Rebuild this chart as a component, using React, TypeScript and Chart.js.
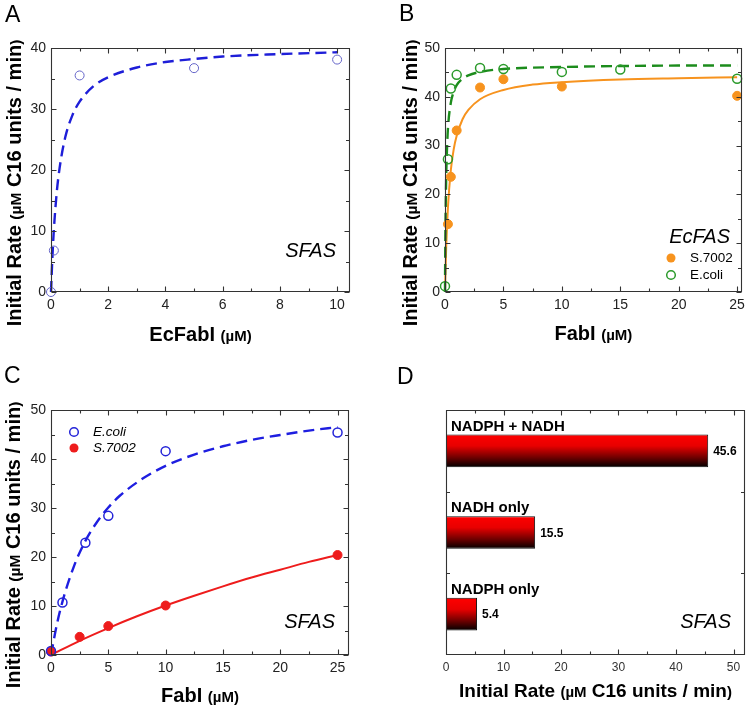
import React, { useEffect, useRef } from 'react';
import { Chart, registerables } from 'chart.js';

Chart.register(...registerables);

const FONT = '"Liberation Sans", Arial, Helvetica, sans-serif';

// ---------- Panel A : SFAS vs EcFabI ----------
const aObsX = [0, 0.1, 1, 5, 10];
const aObsY = [0, 6.8, 35.5, 36.7, 38.1];
const aFitX = [0, 0.05, 0.1, 0.2, 0.3, 0.5, 0.75, 1, 1.5, 2, 3, 4, 5, 6, 8, 10];
const aFitY = [0, 5.8, 10.2, 16.3, 20.3, 25.4, 29.0, 31.2, 33.8, 35.2, 36.8, 37.7, 38.2, 38.6, 39.0, 39.3];
const aXTicks = [0, 2, 4, 6, 8, 10];
const aYTicks = [0, 10, 20, 30, 40];

// ---------- Panel B : EcFAS vs FabI ----------
const bS7002X = [0.25, 0.5, 1, 3, 5, 10, 25];
const bS7002Y = [13.9, 23.6, 33.1, 41.9, 43.6, 42.1, 40.2];
const bEcoliX = [0, 0.25, 0.5, 1, 3, 5, 10, 15, 25];
const bEcoliY = [1.2, 27.2, 41.7, 44.5, 45.9, 45.7, 45.1, 45.6, 43.7];
const bS7002FitX = [0, 0.1, 0.25, 0.5, 0.75, 1, 1.5, 2, 3, 5, 7.5, 10, 15, 20, 25];
const bS7002FitY = [0, 9.0, 17.3, 25.0, 29.3, 32.0, 35.4, 37.3, 39.5, 41.4, 42.5, 43.0, 43.55, 43.8, 44.0];
const bEcoliFitX = [0, 0.02, 0.05, 0.1, 0.2, 0.3, 0.5, 0.75, 1, 1.5, 2, 3, 5, 10, 15, 20, 25];
const bEcoliFitY = [0, 7.8, 15.5, 23.3, 31.1, 35.0, 38.8, 41.1, 42.4, 43.7, 44.4, 45.1, 45.7, 46.1, 46.3, 46.4, 46.4];
const bXTicks = [0, 5, 10, 15, 20, 25];
const bYTicks = [0, 10, 20, 30, 40, 50];

// ---------- Panel C : SFAS vs FabI ----------
const cEcoliX = [0, 1, 3, 5, 10, 25];
const cEcoliY = [0.8, 10.7, 22.9, 28.4, 41.6, 45.4];
const cS7002X = [0, 2.5, 5, 10, 25];
const cS7002Y = [0.7, 3.7, 5.9, 10.1, 20.4];
const cEcoliFitX = [0, 0.5, 1, 2, 3, 4, 5, 6, 8, 10, 12.5, 15, 17.5, 20, 22.5, 25];
const cEcoliFitY = [0, 6.1, 10.9, 18.1, 23.3, 27.1, 30.1, 32.5, 36.0, 38.6, 40.9, 42.6, 43.9, 44.9, 45.8, 46.5];
const cS7002FitX = [0, 2.5, 5, 7.5, 10, 12.5, 15, 17.5, 20, 22.5, 25];
const cS7002FitY = [0, 2.9, 5.5, 7.9, 10.1, 12.1, 14.0, 15.8, 17.4, 19.0, 20.4];
const cXTicks = [0, 5, 10, 15, 20, 25];
const cYTicks = [0, 10, 20, 30, 40, 50];

// ---------- Panel D : cofactor bars ----------
const dCategories = ['NADPH + NADH', 'NADH only', 'NADPH only'];
const dValues = [45.6, 15.5, 5.4];
const dXTicks = [0, 10, 20, 30, 40, 50];

const zip = (xs: number[], ys: number[]) => xs.map((x, i) => ({ x, y: ys[i] }));
const minorOf = (t: number[]) => t.slice(0, -1).map((v, i) => (v + t[i + 1]) / 2);

type Part = { t: string; s: number };
type Note = { t: string; font: string; x: number; y: number; align?: CanvasTextAlign; base?: CanvasTextBaseline };
type Marker = { x: number; y: number; r: number; color: string; fill: boolean; lw?: number };
type Decor = {
  letter: Note;
  xTitle: Part[];
  xBase: number;
  yTitle?: Part[];
  yX?: number;
  yCy?: number;
  notes: Note[];
  markers: Marker[];
};

const titleParts = (big: number, small: number): Part[] => [
  { t: 'Initial Rate ', s: big },
  { t: '(\u00b5M', s: small },
  { t: ' C16 units / min', s: big },
  { t: ')', s: small },
];

function drawParts(ctx: CanvasRenderingContext2D, parts: Part[], x: number, y: number, rotate: boolean) {
  ctx.save();
  let total = 0;
  const ws = parts.map((p) => {
    ctx.font = `bold ${p.s}px ${FONT}`;
    const w = ctx.measureText(p.t).width;
    total += w;
    return w;
  });
  ctx.translate(x, y);
  if (rotate) ctx.rotate(-Math.PI / 2);
  ctx.textAlign = 'left';
  ctx.textBaseline = 'alphabetic';
  ctx.fillStyle = '#000';
  let cx = -total / 2;
  parts.forEach((p, i) => {
    ctx.font = `bold ${p.s}px ${FONT}`;
    ctx.fillText(p.t, cx, 0);
    cx += ws[i];
  });
  ctx.restore();
}

function makeDecor(d: Decor) {
  return {
    id: 'decor',
    afterDraw(chart: any) {
      const ctx: CanvasRenderingContext2D = chart.ctx;
      const ca = chart.chartArea;
      ctx.save();
      const notes = [d.letter, ...d.notes];
      notes.forEach((n) => {
        ctx.font = n.font;
        ctx.fillStyle = '#000';
        ctx.textAlign = n.align || 'left';
        ctx.textBaseline = n.base || 'alphabetic';
        ctx.fillText(n.t, n.x, n.y);
      });
      d.markers.forEach((m) => {
        ctx.beginPath();
        ctx.arc(m.x, m.y, m.r, 0, Math.PI * 2);
        if (m.fill) {
          ctx.fillStyle = m.color;
          ctx.fill();
        } else {
          ctx.strokeStyle = m.color;
          ctx.lineWidth = m.lw || 1.3;
          ctx.stroke();
        }
      });
      ctx.restore();
      drawParts(ctx, d.xTitle, (ca.left + ca.right) / 2, d.xBase, false);
      if (d.yTitle) drawParts(ctx, d.yTitle, d.yX as number, d.yCy as number, true);
    },
  };
}

function makeFrame(f: { xMajor: number[]; xMinor: number[]; yMajor: number[]; yMinor: number[] }) {
  return {
    id: 'frame',
    afterDatasetsDraw(chart: any) {
      const ctx: CanvasRenderingContext2D = chart.ctx;
      const ca = chart.chartArea;
      const xs = chart.scales.x;
      const ys = chart.scales.y;
      const L = Math.round(ca.left) + 0.5;
      const R = Math.round(ca.right) - 0.5;
      const T = Math.round(ca.top) + 0.5;
      const B = Math.round(ca.bottom) - 0.5;
      ctx.save();
      ctx.strokeStyle = '#333';
      ctx.lineWidth = 1.1;
      ctx.beginPath();
      ctx.rect(L, T, R - L, B - T);
      const xt = (v: number, len: number) => {
        const p = Math.round(xs.getPixelForValue(v)) + 0.5;
        ctx.moveTo(p, B);
        ctx.lineTo(p, B - len);
        ctx.moveTo(p, T);
        ctx.lineTo(p, T + len);
      };
      const yt = (v: number, len: number) => {
        const p = Math.round(ys.getPixelForValue(v)) + 0.5;
        ctx.moveTo(L, p);
        ctx.lineTo(L + len, p);
        ctx.moveTo(R, p);
        ctx.lineTo(R - len, p);
      };
      f.xMajor.forEach((v) => xt(v, 5));
      f.xMinor.forEach((v) => xt(v, 3));
      f.yMajor.forEach((v) => yt(v, 5));
      f.yMinor.forEach((v) => yt(v, 3.5));
      ctx.stroke();
      ctx.restore();
    },
  };
}

type Series = { pts: { x: number; y: number }[]; kind: 'open' | 'filled' | 'line'; color: string; dash?: number[]; lw?: number };

function xyConfig(p: {
  series: Series[];
  xMin: number;
  xMax: number;
  yMin: number;
  yMax: number;
  xTicks: number[];
  yTicks: number[];
  top: number;
  right: number;
  yW: number;
  xH: number;
  decor: Decor;
}) {
  const datasets = p.series.map((s) =>
    s.kind === 'line'
      ? {
          data: s.pts,
          showLine: true,
          borderColor: s.color,
          borderWidth: s.lw || 2.2,
          borderDash: s.dash || [],
          pointRadius: 0,
          pointHoverRadius: 0,
          cubicInterpolationMode: 'monotone',
          fill: false,
          order: 2,
          clip: false,
        }
      : {
          data: s.pts,
          showLine: false,
          pointRadius: 4.5,
          pointHoverRadius: 4.5,
          pointBorderWidth: s.kind === 'open' ? (s.lw || 1.3) : 1,
          pointBackgroundColor: s.kind === 'open' ? 'rgba(0,0,0,0)' : s.color,
          pointBorderColor: s.color,
          order: 0,
          clip: false,
        }
  );
  return {
    type: 'scatter',
    data: { datasets },
    options: {
      responsive: false,
      animation: false,
      devicePixelRatio: 1,
      events: [],
      layout: { padding: { left: 0, top: p.top, right: p.right, bottom: 0 } },
      plugins: { legend: { display: false }, tooltip: { enabled: false } },
      scales: {
        x: {
          type: 'linear',
          position: 'bottom',
          min: p.xMin,
          max: p.xMax,
          afterBuildTicks: (s: any) => {
            s.ticks = p.xTicks.map((v) => ({ value: v }));
          },
          afterFit: (s: any) => {
            s.height = p.xH;
          },
          grid: { display: false, drawTicks: false },
          border: { display: false },
          ticks: { font: { family: FONT, size: 14 }, color: '#222', padding: 5, maxRotation: 0, autoSkip: false },
        },
        y: {
          type: 'linear',
          position: 'left',
          min: p.yMin,
          max: p.yMax,
          afterBuildTicks: (s: any) => {
            s.ticks = p.yTicks.map((v) => ({ value: v }));
          },
          afterFit: (s: any) => {
            s.width = p.yW;
          },
          grid: { display: false, drawTicks: false },
          border: { display: false },
          ticks: { font: { family: FONT, size: 14 }, color: '#222', padding: 5, autoSkip: false },
        },
      },
    },
    plugins: [
      makeFrame({ xMajor: p.xTicks, xMinor: minorOf(p.xTicks), yMajor: p.yTicks, yMinor: minorOf(p.yTicks) }),
      makeDecor(p.decor),
    ],
  };
}

const configA = () =>
  xyConfig({
    series: [
      { pts: zip(aObsX, aObsY), kind: 'open', color: '#6464c8', lw: 1 },
      { pts: zip(aFitX, aFitY), kind: 'line', color: '#1e1ed8', dash: [11, 6], lw: 2.4 },
    ],
    xMin: 0,
    xMax: 10.45,
    yMin: 0,
    yMax: 40,
    xTicks: aXTicks,
    yTicks: aYTicks,
    top: 48,
    right: 25,
    yW: 51,
    xH: 64,
    decor: {
      letter: { t: 'A', font: `23px ${FONT}`, x: 5, y: 22 },
      xTitle: [
        { t: 'EcFabI ', s: 20 },
        { t: '(\u00b5M)', s: 15 },
      ],
      xBase: 341,
      yTitle: titleParts(20, 15.5),
      yX: 21,
      yCy: 183,
      notes: [{ t: 'SFAS', font: `italic 20px ${FONT}`, x: 336, y: 257, align: 'right' }],
      markers: [],
    },
  });

const configB = () =>
  xyConfig({
    series: [
      { pts: zip(bEcoliX, bEcoliY), kind: 'open', color: '#2b9a2b', lw: 1.5 },
      { pts: zip(bS7002X, bS7002Y), kind: 'filled', color: '#f7931e' },
      { pts: zip(bEcoliFitX, bEcoliFitY), kind: 'line', color: '#1c8c1c', dash: [11, 6], lw: 2.4 },
      { pts: zip(bS7002FitX, bS7002FitY), kind: 'line', color: '#f7931e', lw: 2 },
    ],
    xMin: 0,
    xMax: 25.4,
    yMin: 0,
    yMax: 50,
    xTicks: bXTicks,
    yTicks: bYTicks,
    top: 48,
    right: 6,
    yW: 70,
    xH: 64,
    decor: {
      letter: { t: 'B', font: `23px ${FONT}`, x: 24, y: 21 },
      xTitle: [
        { t: 'FabI ', s: 20 },
        { t: '(\u00b5M)', s: 15 },
      ],
      xBase: 340,
      yTitle: titleParts(20, 15.5),
      yX: 42,
      yCy: 183,
      notes: [
        { t: 'EcFAS', font: `italic 20px ${FONT}`, x: 355, y: 243, align: 'right' },
        { t: 'S.7002', font: `13.5px ${FONT}`, x: 315, y: 258, base: 'middle' },
        { t: 'E.coli', font: `13.5px ${FONT}`, x: 315, y: 275, base: 'middle' },
      ],
      markers: [
        { x: 296, y: 258, r: 4.5, color: '#f7931e', fill: true },
        { x: 296, y: 275, r: 4.3, color: '#2b9a2b', fill: false, lw: 1.5 },
      ],
    },
  });

const configC = () =>
  xyConfig({
    series: [
      { pts: zip(cEcoliX, cEcoliY), kind: 'open', color: '#2424d8', lw: 1.5 },
      { pts: zip(cS7002X, cS7002Y), kind: 'filled', color: '#ee1c1c' },
      { pts: zip(cEcoliFitX, cEcoliFitY), kind: 'line', color: '#1e1ee0', dash: [11, 6], lw: 2.4 },
      { pts: zip(cS7002FitX, cS7002FitY), kind: 'line', color: '#ee1c1c', lw: 2 },
    ],
    xMin: 0,
    xMax: 26,
    yMin: 0,
    yMax: 50,
    xTicks: cXTicks,
    yTicks: cYTicks,
    top: 54,
    right: 26,
    yW: 51,
    xH: 57,
    decor: {
      letter: { t: 'C', font: `23px ${FONT}`, x: 4, y: 27 },
      xTitle: [
        { t: 'FabI ', s: 20 },
        { t: '(\u00b5M)', s: 15 },
      ],
      xBase: 346,
      yTitle: titleParts(20, 15.5),
      yX: 20,
      yCy: 189,
      notes: [
        { t: 'SFAS', font: `italic 20px ${FONT}`, x: 335, y: 272, align: 'right' },
        { t: 'E.coli', font: `italic 13.5px ${FONT}`, x: 93, y: 76, base: 'middle' },
        { t: 'S.7002', font: `italic 13.5px ${FONT}`, x: 93, y: 92, base: 'middle' },
      ],
      markers: [
        { x: 74, y: 76, r: 4.3, color: '#2424d8', fill: false, lw: 1.5 },
        { x: 74, y: 92, r: 4.5, color: '#ee1c1c', fill: true },
      ],
    },
  });

const barLabelPlugin = {
  id: 'barLabels',
  afterDatasetsDraw(chart: any) {
    const ctx: CanvasRenderingContext2D = chart.ctx;
    const ca = chart.chartArea;
    const meta = chart.getDatasetMeta(0);
    ctx.save();
    ctx.fillStyle = '#000';
    meta.data.forEach((bar: any, i: number) => {
      const { x, y, height } = bar.getProps(['x', 'y', 'height'], true);
      ctx.font = `bold 15px ${FONT}`;
      ctx.textAlign = 'left';
      ctx.textBaseline = 'alphabetic';
      ctx.fillText(dCategories[i], ca.left + 5, y - height / 2 - 4);
      ctx.font = `bold 12px ${FONT}`;
      ctx.textBaseline = 'middle';
      ctx.fillText(dValues[i].toFixed(1), x + 5, y + 1);
    });
    ctx.restore();
  },
};

const configD = () => ({
  type: 'bar',
  data: {
    labels: dCategories,
    datasets: [
      {
        data: dValues,
        backgroundColor: (c: any) => {
          const chart = c.chart;
          const ca = chart.chartArea;
          if (!ca || c.dataIndex === undefined) return '#c00000';
          const ys = chart.scales.y;
          const cy = ys.getPixelForValue(c.dataIndex);
          const half = ((ca.bottom - ca.top) / dCategories.length) * 0.4 / 2;
          const g = chart.ctx.createLinearGradient(0, cy - half, 0, cy + half);
          g.addColorStop(0, '#ff0000');
          g.addColorStop(0.35, '#e80000');
          g.addColorStop(0.7, '#700000');
          g.addColorStop(1, '#000000');
          return g;
        },
        borderColor: '#111',
        borderWidth: 1,
        borderSkipped: false,
        barPercentage: 0.4,
        categoryPercentage: 1,
      },
    ],
  },
  options: {
    indexAxis: 'y',
    responsive: false,
    animation: false,
    devicePixelRatio: 1,
    events: [],
    layout: { padding: { left: 0, top: 54, right: 5, bottom: 0 } },
    plugins: { legend: { display: false }, tooltip: { enabled: false } },
    scales: {
      x: {
        type: 'linear',
        position: 'bottom',
        min: 0,
        max: 52,
        afterBuildTicks: (s: any) => {
          s.ticks = dXTicks.map((v) => ({ value: v }));
        },
        afterFit: (s: any) => {
          s.height = 57;
        },
        grid: { display: false, drawTicks: false },
        border: { display: false },
        ticks: { font: { family: FONT, size: 12 }, color: '#333', padding: 5, maxRotation: 0, autoSkip: false },
      },
      y: {
        type: 'category',
        position: 'left',
        afterFit: (s: any) => {
          s.width = 71;
        },
        grid: { display: false, drawTicks: false },
        border: { display: false },
        ticks: { display: false },
      },
    },
  },
  plugins: [
    makeFrame({ xMajor: dXTicks, xMinor: minorOf(dXTicks), yMajor: [], yMinor: [0.5, 1.5] }),
    barLabelPlugin,
    makeDecor({
      letter: { t: 'D', font: `23px ${FONT}`, x: 22, y: 28 },
      xTitle: titleParts(19, 15),
      xBase: 341,
      notes: [{ t: 'SFAS', font: `italic 20px ${FONT}`, x: 356, y: 272, align: 'right' }],
      markers: [],
    }),
  ],
});

function Panel({ make, left, top }: { make: () => any; left: number; top: number }) {
  const ref = useRef<HTMLCanvasElement>(null);
  useEffect(() => {
    const chart = new Chart(ref.current as HTMLCanvasElement, make());
    return () => chart.destroy();
  }, []);
  return (
    <canvas
      ref={ref}
      width={375}
      height={356}
      style={{ position: 'absolute', left, top, width: 375, height: 356, display: 'block' }}
    />
  );
}

export default function App() {
  return (
    <div style={{ position: 'absolute', left: 0, top: 0, width: 750, height: 712, background: '#fff', overflow: 'hidden' }}>
      <Panel make={configA} left={0} top={0} />
      <Panel make={configB} left={375} top={0} />
      <Panel make={configC} left={0} top={356} />
      <Panel make={configD} left={375} top={356} />
    </div>
  );
}
